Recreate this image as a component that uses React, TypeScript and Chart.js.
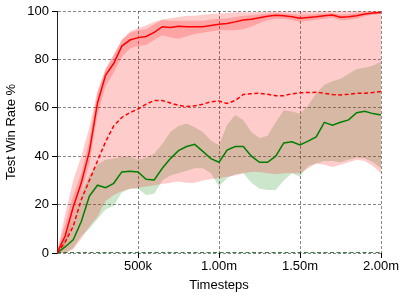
import { useEffect, useRef } from 'react';
import { Chart, registerables } from 'chart.js';
Chart.register(...registerables);

// Timesteps in thousands
const timestepsK = [0, 50, 100, 150, 200, 250, 300, 350, 400, 450, 500, 550, 600, 650, 700, 750, 800, 850, 900, 950, 1000, 1050, 1100, 1150, 1200, 1250, 1300, 1350, 1400, 1450, 1500, 1550, 1600, 1650, 1700, 1750, 1800, 1850, 1900, 1950, 2000];

const redSolid = [0, 7, 19, 29, 42, 62, 73.5, 78.3, 85.5, 88, 89, 89.5, 91.2, 93.5, 93.2, 93.7, 93.5, 93.5, 93.5, 94, 94.5, 94.8, 95.5, 96.3, 96.6, 97.2, 97.8, 98.2, 98, 97.6, 97, 97.3, 97.6, 98, 98.3, 97.4, 97.6, 98, 98.8, 99.2, 99.4];
const redSolidLower = [0, 3, 14, 25, 37, 57, 69, 74.5, 81, 84.5, 85.5, 86, 88, 90, 89, 88.5, 89.5, 90.5, 91, 91.5, 92, 92, 92, 92.5, 93.5, 95, 96.2, 96.8, 96.8, 96.3, 95.5, 96, 96.4, 96.8, 97.2, 96.2, 96.4, 96.8, 97.8, 98.4, 98.8];
const redSolidUpper = [1, 12, 24, 33, 47, 66, 76, 81.5, 88, 91, 92, 92.5, 94.5, 96.3, 96, 96, 96, 96, 96, 96.5, 96.8, 97, 97.5, 98, 98.2, 98.6, 99, 99.2, 99, 98.8, 98.5, 98.6, 98.8, 99, 99.2, 98.6, 98.8, 99.2, 99.6, 99.8, 99.8];

const redDashed = [0, 4.5, 11, 22, 30, 38, 46, 52.5, 56, 58, 59.5, 61.5, 63, 63, 62, 61, 60.5, 60.8, 61.5, 62.5, 62.8, 61.8, 63, 65.5, 65.8, 66, 65.6, 65, 65, 65.8, 66.2, 66.3, 66.4, 66, 65.5, 65.3, 65.6, 66, 66, 66.3, 66.7];
const redDashedLower = [0, 0, 1.5, 6, 11, 15, 21.5, 24, 25.5, 26.5, 27, 27.5, 28, 28.5, 29, 29.5, 29, 29, 30, 30.5, 31, 31.5, 32, 33, 33.5, 33.5, 33, 32.5, 33, 33, 33, 35, 37, 36.5, 35.5, 36.5, 37.5, 38.5, 38, 36, 33];
const redDashedUpper = [0, 16, 30, 40, 52, 67, 76, 82, 88, 91.5, 93, 94, 95.5, 96.5, 97, 97.5, 98, 98, 98.5, 98.8, 99, 99.2, 99.5, 99.5, 99.5, 99.6, 99.7, 99.8, 99.8, 99.8, 99.8, 99.8, 99.8, 99.9, 99.9, 99.9, 99.9, 100, 100, 100, 100];

const greenSolid = [0, 2.5, 5.5, 13, 23.5, 28, 27, 28.8, 33.5, 33.8, 33.5, 30.5, 30.2, 35, 39, 42.3, 44, 44.9, 42, 39, 37.5, 42.5, 44, 44, 40, 37.5, 37.5, 40, 45.5, 46, 44.7, 46.2, 48, 54, 52.8, 54, 55, 58, 58.6, 57.6, 57];
const greenLower = [0, 0, 2, 7, 10, 14, 18, 19.5, 25, 26.5, 26.5, 24, 24.5, 30, 32, 33, 34, 35, 35, 33, 27.5, 31, 32.5, 33, 29, 26.5, 26, 26, 30, 33, 31.5, 36, 37, 38, 38, 37.5, 38.5, 39.5, 39, 37.5, 35];
const greenUpper = [0, 6, 14, 25, 32, 36.5, 38.5, 39, 39.8, 40, 38.5, 39.5, 41, 45, 50, 52.5, 53.5, 52, 50, 46.5, 44.5, 53, 57, 55, 50, 47.5, 48.5, 54, 59, 58.5, 57.5, 61, 66, 69.5, 71, 72, 74, 76, 76.5, 77.5, 79];

const greenZero = [0, 0, 0, 0, 0, 0, 0, 0, 0, 0, 0, 0, 0, 0, 0, 0, 0, 0, 0, 0, 0, 0, 0, 0, 0, 0, 0, 0, 0, 0, 0, 0, 0, 0, 0, 0, 0, 0, 0, 0, 0];

const xTickValues = [500, 1000, 1500, 2000];
const xTickLabels = ['500k', '1.00m', '1.50m', '2.00m'];
const yTickValues = [0, 20, 40, 60, 80, 100];

const FONT = { family: "'Liberation Sans', Arial, sans-serif", size: 13 };

export default function App() {
  const ref = useRef<HTMLCanvasElement>(null);
  useEffect(() => {
    const pts = (arr: number[]) => arr.map((y, i) => ({ x: timestepsK[i], y }));
    const hidden = (arr: number[]) => ({
      data: pts(arr),
      borderWidth: 0,
      borderColor: 'rgba(0,0,0,0)',
      pointRadius: 0,
      fill: false as const,
    });
    const chart = new Chart(ref.current!, {
      type: 'line',
      data: {
        datasets: [
          { data: pts(redSolid), borderColor: '#ff0000', borderWidth: 1.5, pointRadius: 0, fill: false },
          { data: pts(redDashed), borderColor: '#ff0000', borderWidth: 1.5, borderDash: [4, 2.5], pointRadius: 0, fill: false },
          { data: pts(greenSolid), borderColor: '#008000', borderWidth: 1.5, pointRadius: 0, fill: false },
          { data: pts(greenZero), borderColor: '#005000', borderWidth: 1.5, borderDash: [4, 2.5], pointRadius: 0, fill: false },
          hidden(redDashedLower),
          { ...hidden(redDashedUpper), fill: 4, backgroundColor: 'rgba(255,0,0,0.2)' },
          hidden(redSolidLower),
          { ...hidden(redSolidUpper), fill: 6, backgroundColor: 'rgba(255,0,0,0.2)' },
          hidden(greenLower),
          { ...hidden(greenUpper), fill: 8, backgroundColor: 'rgba(0,128,0,0.2)' },
        ] as any,
      },
      options: {
        animation: false,
        responsive: false,
        devicePixelRatio: 1,
        layout: { padding: { top: 11, right: 26, left: 0, bottom: 0 } },
        plugins: { legend: { display: false }, tooltip: { enabled: false } },
        elements: { point: { radius: 0 }, line: { tension: 0 } },
        scales: {
          x: {
            type: 'linear',
            min: 0,
            max: 2000,
            afterBuildTicks: (s: any) => { s.ticks = xTickValues.map((v) => ({ value: v })); },
            afterFit: (s: any) => { s.height = 47; },
            ticks: {
              callback: (v: any) => { const i = xTickValues.indexOf(Number(v)); return i >= 0 ? xTickLabels[i] : ''; },
              font: FONT, color: '#000', padding: 1, maxRotation: 0, autoSkip: false,
            },
            grid: { color: 'rgba(0,0,0,0.6)', lineWidth: 0.8, tickLength: 5, tickColor: '#000', tickWidth: 1 },
            border: { display: false, dash: [3, 2] },
            title: { display: true, text: 'Timesteps', font: FONT, color: '#000', padding: { top: 0, bottom: 7 } },
          },
          y: {
            type: 'linear',
            min: 0,
            max: 100,
            afterBuildTicks: (s: any) => { s.ticks = yTickValues.map((v) => ({ value: v })); },
            afterFit: (s: any) => { s.width = 57; },
            ticks: { font: FONT, color: '#000', padding: 3 },
            grid: { color: 'rgba(0,0,0,0.6)', lineWidth: 0.8, tickLength: 5, tickColor: '#000', tickWidth: 1 },
            border: { display: true, color: '#222', width: 1, dash: [3, 2] },
            title: { display: true, text: 'Test Win Rate %', font: FONT, color: '#000', padding: { top: 4, bottom: 0 } },
          },
        },
      } as any,
    });
    return () => chart.destroy();
  }, []);
  return (
    <div style={{ position: 'absolute', left: 0, top: 0, width: 407, height: 300, background: '#fff' }}>
      <canvas ref={ref} width={407} height={300} style={{ display: 'block' }} />
    </div>
  );
}
